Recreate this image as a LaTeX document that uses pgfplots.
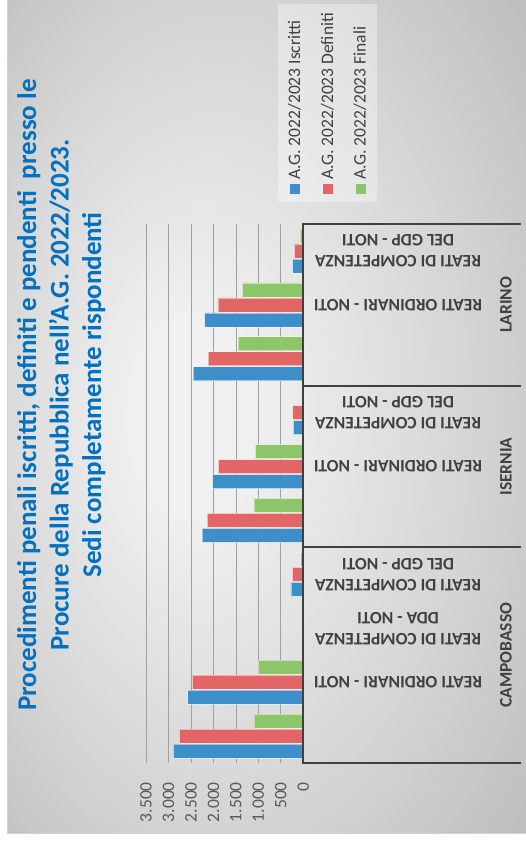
\documentclass[border=0pt]{standalone}
\usepackage{fontspec}
\setmainfont{Carlito}
\usepackage{pgfplots}
\pgfplotsset{compat=1.18}

\definecolor{iscr}{HTML}{3D8EC9}
\definecolor{defi}{HTML}{E36666}
\definecolor{fina}{HTML}{8CC668}
\definecolor{titleblue}{HTML}{0070C0}
\definecolor{labgray}{HTML}{404040}
\definecolor{tickgray}{HTML}{595959}
\definecolor{gridgray}{HTML}{A0A0A0}
\definecolor{bgA}{HTML}{F0F0F0}
\definecolor{bgB}{HTML}{D3D3D3}
\definecolor{bgC}{HTML}{BDBFC1}
\pgfdeclareradialshading{bgshade}{\pgfpoint{-8bp}{0bp}}{color(0bp)=(bgA); color(6bp)=(bgA); color(25bp)=(bgB); color(36bp)=(bgC); color(50bp)=(bgC)}

\begin{document}
\begin{tikzpicture}
% background (page is 526pt x 841pt, y going down)
\fill[white] (0pt,0pt) rectangle (526pt,-841pt);
\shade[shading=bgshade] (7pt,0pt) rectangle (526pt,-833pt);
\draw[gray!35, line width=0.6pt] (7pt,0pt) -- (7pt,-833pt) -- (526pt,-833pt);

% title, turned on its side
\node[rotate=90, anchor=north, inner sep=0pt, align=center, text=titleblue,
      font=\fontsize{27}{32.5}\selectfont\bfseries] at (17pt,-395pt)
  {Procedimenti penali iscritti, definiti e pendenti~~presso le\\
   Procure della Repubblica nell\symbol{39}A.G. 2022/2023.\\
   Sedi completamente rispondenti};

\begin{axis}[
  at={(224.65pt,-493.5pt)}, anchor=center,
  scale only axis, width=157.3pt, height=539pt,
  xbar, bar width=14pt,
  x dir=reverse,
  xmin=0, xmax=3500,
  ymin=-0.5, ymax=9.5,
  xtick={0,500,...,3500},
  ytick=\empty,
  axis line style={draw=none},
  major tick length=0pt,
  xmajorgrids,
  grid style={color=gridgray, line width=0.7pt},
  xticklabel style={rotate=90, anchor=east, inner sep=0pt, text=tickgray,
                    font=\fontsize{17.5}{20}\selectfont},
  xticklabel shift=19pt,
  /pgf/number format/assume math mode=true,
  /pgf/number format/1000 sep={.},
  every axis plot/.append style={draw=white, draw opacity=0.5, line width=0.7pt},
  clip=false,
]
\addplot[fill=iscr, bar shift=-15pt] coordinates {
  (2890,0) (2570,1) (0,2) (275,3) (2250,4) (2015,5) (222,6) (2450,7) (2195,8) (236,9)};
\addplot[fill=defi, bar shift=0pt] coordinates {
  (2760,0) (2470,1) (0,2) (245,3) (2140,4) (1890,5) (236,6) (2120,7) (1900,8) (200,9)};
\addplot[fill=fina, bar shift=15pt] coordinates {
  (1100,0) (1000,1) (0,2) (55,3) (1100,4) (1065,5) (10,6) (1450,7) (1355,8) (70,9)};
\end{axis}

% category box
\draw[labgray, line width=2pt] (303.3pt,-224pt) -- (303.3pt,-763pt);
\foreach \yy in {-224,-385.7,-547.4,-763} {
  \draw[labgray, line width=2pt] (302.3pt,\yy pt) -- (521pt,\yy pt);
}
\tikzset{catlab/.style={rotate=180, align=center, inner sep=0pt, text=labgray,
  font=\fontsize{17.5}{21}\selectfont\bfseries}}
\node[catlab] at (398pt,-682.2pt) {REATI ORDINARI - NOTI};
\node[catlab] at (398pt,-628.3pt) {REATI DI COMPETENZA\\DDA - NOTI};
\node[catlab] at (398pt,-574.4pt) {REATI DI COMPETENZA\\DEL GDP - NOTI};
\node[catlab] at (398pt,-466.6pt) {REATI ORDINARI - NOTI};
\node[catlab] at (398pt,-412.7pt) {REATI DI COMPETENZA\\DEL GDP - NOTI};
\node[catlab] at (398pt,-304.9pt) {REATI ORDINARI - NOTI};
\node[catlab] at (398pt,-251.0pt) {REATI DI COMPETENZA\\DEL GDP - NOTI};
\tikzset{citylab/.style={rotate=90, inner sep=0pt, text=labgray,
  font=\fontsize{17.5}{21}\selectfont\bfseries}}
\node[citylab] at (506pt,-655.2pt) {CAMPOBASSO};
\node[citylab] at (506pt,-466.6pt) {ISERNIA};
\node[citylab] at (506pt,-304.9pt) {LARINO};

% legend
\fill[white, opacity=0.35] (278pt,-4pt) rectangle (377pt,-202pt);
\tikzset{legtxt/.style={rotate=90, anchor=base west, inner sep=0pt, text=labgray,
  font=\fontsize{17.5}{20}\selectfont}}
\fill[iscr] (290pt,-184pt) rectangle (300pt,-194pt);
\node[legtxt] at (300pt,-180pt) {A.G. 2022/2023 Iscritti};
\fill[defi] (323pt,-184pt) rectangle (333pt,-194pt);
\node[legtxt] at (333pt,-180pt) {A.G. 2022/2023 Definiti};
\fill[fina] (355.5pt,-184pt) rectangle (365.5pt,-194pt);
\node[legtxt] at (365.5pt,-180pt) {A.G. 2022/2023 Finali};

\pgfresetboundingbox
\path[use as bounding box] (0pt,0pt) rectangle (526pt,-841pt);
\end{tikzpicture}
\end{document}
